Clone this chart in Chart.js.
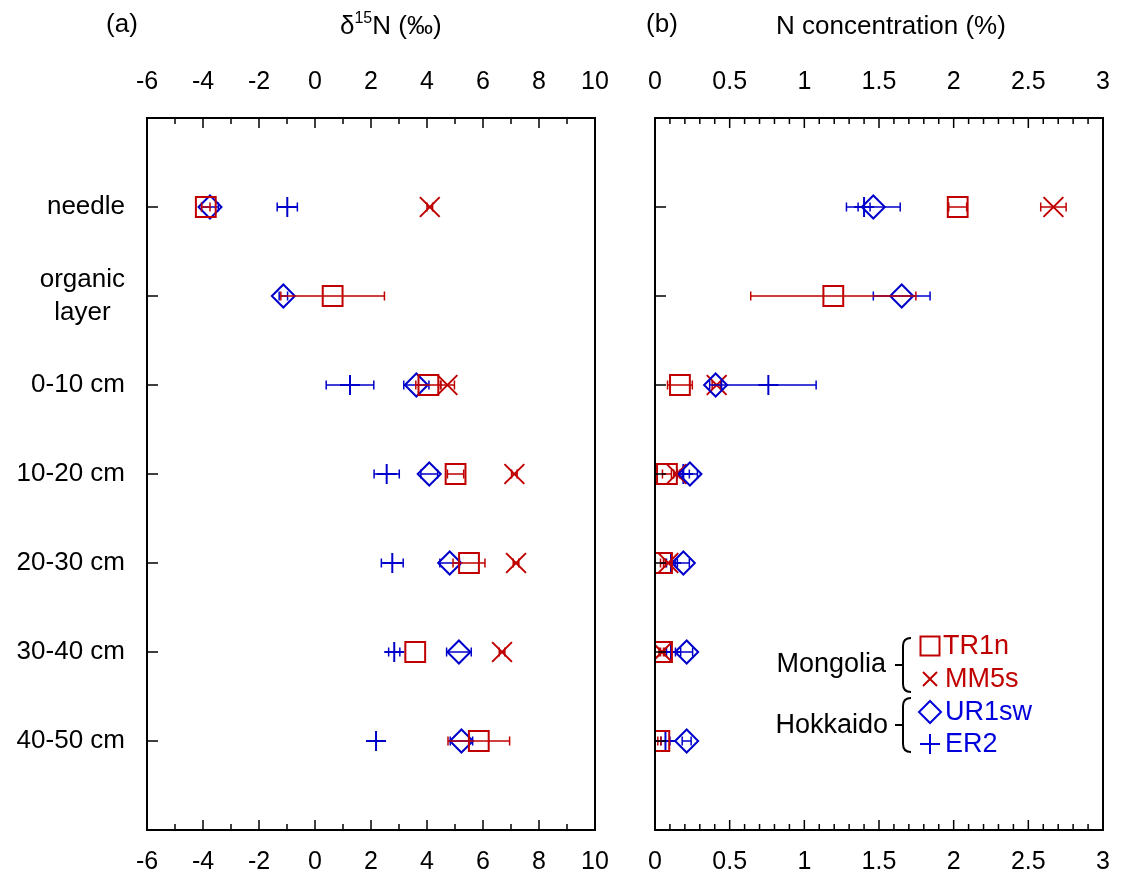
<!doctype html>
<html lang="en">
<head>
<meta charset="utf-8">
<title>d15N and N concentration</title>
<script src="https://cdn.jsdelivr.net/npm/chart.js@4.4.0/dist/chart.umd.min.js"></script>
<style>
  body { margin: 0; background: #fff; }
  #wrap { position: relative; width: 1121px; height: 882px; }
  canvas { position: absolute; top: 0; }
</style>
</head>
<body>
<div id="wrap">
  <canvas id="chartA" width="620" height="882" style="left:0"></canvas>
  <canvas id="chartB" width="501" height="882" style="left:620px"></canvas>
</div>
<script>
// depth classes, top to bottom
const depths = ['needle', ['organic', 'layer  '], '0-10 cm', '10-20 cm', '20-30 cm', '30-40 cm', '40-50 cm'];

// (a) d15N (permil), mean and error
const d15N_TR1n  = [-3.9, 0.63, 4.05, 5.02, 5.5, 3.58, 5.85];
const d15N_TR1n_e = [0.15, 1.85, 0.45, 0.29, 0.57, 0, 1.1];
const d15N_MM5s  = [4.1, null, 4.73, 7.12, 7.18, 6.68, null];
const d15N_MM5s_e = [0.1, null, 0.25, 0.1, 0.1, 0.1, null];
const d15N_UR1sw = [-3.75, -1.13, 3.62, 4.08, 4.81, 5.14, 5.23];
const d15N_UR1sw_e = [0.3, 0.15, 0.45, 0.3, 0.35, 0.44, 0.4];
const d15N_ER2   = [-0.99, null, 1.25, 2.56, 2.76, 2.83, 2.18];
const d15N_ER2_e = [0.36, null, 0.85, 0.45, 0.39, 0.2, 0];

// (b) N concentration (%)
const Nc_TR1n  = [2.027, 1.194, 0.167, 0.08, 0.047, 0.047, 0.029];
const Nc_TR1n_e = [0.06, 0.553, 0.083, 0.03, 0.01, 0.01, 0.01];
const Nc_MM5s  = [2.668, null, 0.413, 0.145, 0.089, 0.047, null];
const Nc_MM5s_e = [0.085, null, 0.03, 0.02, 0.02, 0.02, null];
const Nc_UR1sw = [1.462, 1.652, 0.406, 0.234, 0.19, 0.212, 0.212];
const Nc_UR1sw_e = [0.18, 0.19, 0.04, 0.05, 0.04, 0.04, 0.03];
const Nc_ER2   = [1.40, null, 0.759, 0.19, 0.107, 0.107, 0.07];
const Nc_ER2_e = [0.04, null, 0.32, 0.04, 0.03, 0.03, 0.03];

const RED = '#c00000';
const BLUE = '#0000cc';
const FONT = 'Liberation Sans, Arial, sans-serif';

function pts(vals, errs) {
  const out = [];
  vals.forEach((v, i) => { if (v !== null) out.push({ x: v, y: i + 1, err: errs[i] || 0 }); });
  return out;
}

function datasets(tr, tre, mm, mme, ur, ure, er, ere) {
  return [
    { label: 'TR1n', data: pts(tr, tre), pointStyle: 'rect', pointRadius: 14, borderColor: RED, backgroundColor: 'rgba(0,0,0,0)', borderWidth: 2 },
    { label: 'UR1sw', data: pts(ur, ure), pointStyle: 'rectRot', pointRadius: 11.5, borderColor: BLUE, backgroundColor: 'rgba(0,0,0,0)', borderWidth: 2 },
    { label: 'MM5s', data: pts(mm, mme), pointStyle: 'crossRot', pointRadius: 14, borderColor: RED, backgroundColor: RED, borderWidth: 2 },
    { label: 'ER2', data: pts(er, ere), pointStyle: 'cross', pointRadius: 10, borderColor: BLUE, backgroundColor: BLUE, borderWidth: 2 }
  ];
}

// no label overhang, so the layout padding alone sets the plot edges
function noOverhang(s) { s.paddingLeft = 0; s.paddingRight = 0; }

function scales(xmin, xmax, step, yWidth, showY) {
  const tickFont = { family: FONT, size: 25 };
  return {
    x: {
      type: 'linear', position: 'bottom', min: xmin, max: xmax,
      ticks: { stepSize: step, font: tickFont, color: '#000', padding: 17, maxRotation: 0, autoSkip: false, callback: v => String(v) },
      grid: { display: false, drawTicks: false }, border: { display: false },
      afterFit: s => { s.height = 52; noOverhang(s); }
    },
    x2: {
      type: 'linear', position: 'top', min: xmin, max: xmax,
      ticks: { stepSize: step, font: tickFont, color: '#000', padding: 21, maxRotation: 0, autoSkip: false, callback: v => String(v) },
      grid: { display: false, drawTicks: false }, border: { display: false },
      afterFit: s => { s.height = 118; noOverhang(s); }
    },
    y: {
      type: 'linear', min: 0, max: 8, reverse: true,
      afterBuildTicks: s => { s.ticks = depths.map((d, i) => ({ value: i + 1 })); },
      ticks: { display: showY, callback: v => depths[v - 1], font: { family: FONT, size: 26, lineHeight: 1.27 }, color: '#000', padding: 22 },
      grid: { display: false, drawTicks: false }, border: { display: false },
      afterFit: s => { s.width = yWidth; s.paddingTop = 0; s.paddingBottom = 0; }
    }
  };
}

// error bars, drawn under each dataset's markers
const errorBars = {
  id: 'errorBars',
  beforeDatasetDraw(chart, args) {
    const ds = chart.data.datasets[args.index];
    const xs = chart.scales.x, ys = chart.scales.y, ctx = chart.ctx;
    ctx.save();
    ctx.strokeStyle = ds.borderColor;
    ctx.lineWidth = 1.5;
    ds.data.forEach(p => {
      if (!p.err) return;
      const y = ys.getPixelForValue(p.y);
      const x0 = xs.getPixelForValue(p.x - p.err), x1 = xs.getPixelForValue(p.x + p.err);
      ctx.beginPath();
      ctx.moveTo(x0, y); ctx.lineTo(x1, y);
      ctx.moveTo(x0, y - 4.5); ctx.lineTo(x0, y + 4.5);
      ctx.moveTo(x1, y - 4.5); ctx.lineTo(x1, y + 4.5);
      ctx.stroke();
    });
    ctx.restore();
  }
};

// frame plus inward ticks
const frame = {
  id: 'frame',
  afterDraw(chart, args, opts) {
    const { ctx, chartArea: a } = chart;
    const xs = chart.scales.x, ys = chart.scales.y;
    ctx.save();
    ctx.strokeStyle = '#000';
    ctx.lineWidth = 1.5;
    ctx.beginPath();
    const n = Math.round((xs.max - xs.min) / opts.minor);
    for (let k = 0; k <= n; k++) {
      const v = xs.min + k * opts.minor;
      const px = xs.getPixelForValue(v);
      const len = (k % opts.ratio === 0) ? 10 : 6;
      ctx.moveTo(px, a.top); ctx.lineTo(px, a.top + len);
      ctx.moveTo(px, a.bottom); ctx.lineTo(px, a.bottom - len);
    }
    depths.forEach((d, i) => {
      const py = ys.getPixelForValue(i + 1);
      ctx.moveTo(a.left, py); ctx.lineTo(a.left + 11, py);
    });
    ctx.stroke();
    ctx.lineWidth = 2;
    ctx.strokeRect(a.left, a.top, a.right - a.left, a.bottom - a.top);
    ctx.restore();
  }
};

const titleA = {
  id: 'titleA',
  afterDraw(chart) {
    const ctx = chart.ctx;
    ctx.save();
    ctx.fillStyle = '#000';
    ctx.textBaseline = 'middle';
    ctx.font = '26px ' + FONT;
    ctx.textAlign = 'center';
    ctx.fillText('(a)', 122, 25);
    ctx.textAlign = 'left';
    let x = 340;
    ctx.fillText('δ', x, 27);
    x += ctx.measureText('δ').width;
    ctx.font = '16px ' + FONT;
    ctx.fillText('15', x, 19);
    x += ctx.measureText('15').width;
    ctx.font = '26px ' + FONT;
    ctx.fillText('N (‰)', x, 27);
    ctx.restore();
  }
};

const titleB = {
  id: 'titleB',
  afterDraw(chart) {
    const ctx = chart.ctx;
    ctx.save();
    ctx.fillStyle = '#000';
    ctx.textBaseline = 'middle';
    ctx.font = '26px ' + FONT;
    ctx.textAlign = 'center';
    ctx.fillText('(b)', 42, 25);
    ctx.fillText('N concentration (%)', 271, 27);

    // grouped legend
    ctx.font = '27px ' + FONT;
    ctx.lineWidth = 2;
    ctx.textAlign = 'right';
    ctx.fillText('Mongolia', 266, 665);
    ctx.fillText('Hokkaido', 268, 726);
    ctx.strokeStyle = '#000';
    [[638, 692, 665], [698, 752, 725]].forEach(([t, b, m]) => {
      ctx.beginPath();
      ctx.moveTo(291, t);
      ctx.quadraticCurveTo(283, t, 283, t + 8);
      ctx.lineTo(283, b - 8);
      ctx.quadraticCurveTo(283, b, 291, b);
      ctx.moveTo(283, m); ctx.lineTo(275, m);
      ctx.stroke();
    });

    ctx.textAlign = 'left';
    ctx.strokeStyle = RED;
    ctx.strokeRect(300.5, 636.5, 19, 19);
    ctx.beginPath();
    ctx.moveTo(303, 672); ctx.lineTo(317, 686);
    ctx.moveTo(317, 672); ctx.lineTo(303, 686);
    ctx.stroke();
    ctx.fillStyle = RED;
    ctx.fillText('TR1n', 323, 647);
    ctx.fillText('MM5s', 325, 680);

    ctx.strokeStyle = '#0000dd';
    ctx.beginPath();
    ctx.moveTo(310, 701); ctx.lineTo(321, 712); ctx.lineTo(310, 723); ctx.lineTo(299, 712); ctx.closePath();
    ctx.moveTo(300, 744); ctx.lineTo(320, 744);
    ctx.moveTo(310, 734); ctx.lineTo(310, 754);
    ctx.stroke();
    ctx.fillStyle = '#0000dd';
    ctx.fillText('UR1sw', 325, 713);
    ctx.fillText('ER2', 325, 745);
    ctx.restore();
  }
};

function makeChart(id, sets, sc, pad, extra, tickOpts) {
  return new Chart(document.getElementById(id), {
    type: 'scatter',
    data: { datasets: sets },
    options: {
      responsive: false,
      animation: false,
      layout: { padding: { left: 0, top: 0, bottom: 0, right: pad } },
      scales: sc,
      plugins: { legend: { display: false }, tooltip: { enabled: false }, frame: tickOpts }
    },
    plugins: [errorBars, frame, extra]
  });
}

makeChart('chartA',
  datasets(d15N_TR1n, d15N_TR1n_e, d15N_MM5s, d15N_MM5s_e, d15N_UR1sw, d15N_UR1sw_e, d15N_ER2, d15N_ER2_e),
  scales(-6, 10, 2, 147, true), 25, titleA, { minor: 1, ratio: 2 });

makeChart('chartB',
  datasets(Nc_TR1n, Nc_TR1n_e, Nc_MM5s, Nc_MM5s_e, Nc_UR1sw, Nc_UR1sw_e, Nc_ER2, Nc_ER2_e),
  scales(0, 3, 0.5, 35, false), 18, titleB, { minor: 0.1, ratio: 5 });
</script>
</body>
</html>
